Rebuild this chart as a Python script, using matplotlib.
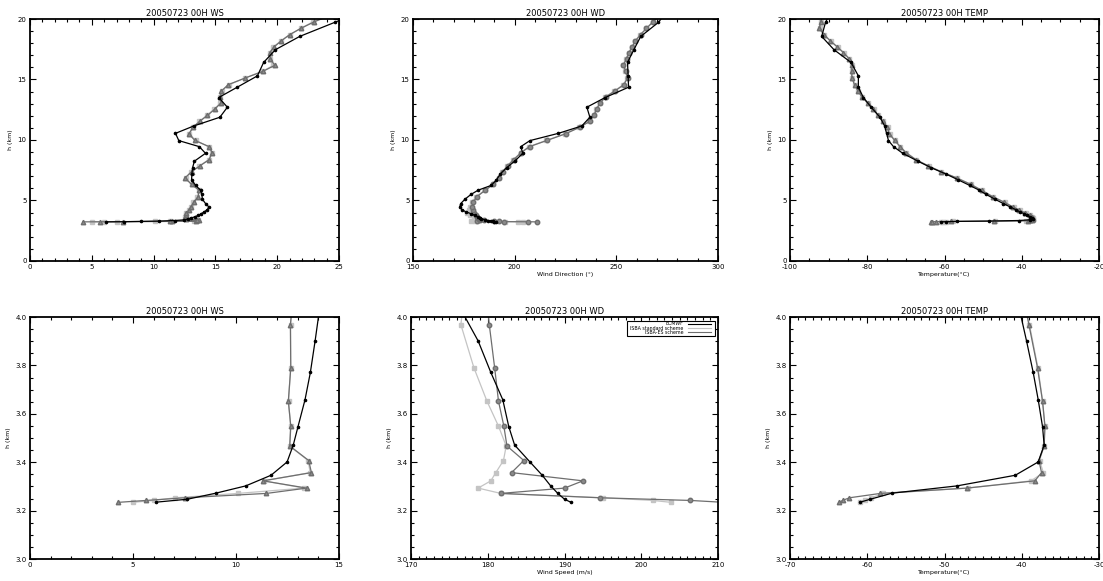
import numpy as np
import matplotlib
matplotlib.use("Agg")
import matplotlib.pyplot as plt
from matplotlib.ticker import MultipleLocator, FormatStrFormatter
from matplotlib.patches import Rectangle

plt.rcParams['font.family'] = 'DejaVu Sans'
plt.rcParams['axes.unicode_minus'] = False

# ECMWF profile (height in km)
h_ec = [3.235, 3.247, 3.272, 3.302, 3.346, 3.401, 3.471, 3.547, 3.658, 3.771, 3.901,
        4.06, 4.25, 4.47, 4.75, 5.1, 5.5, 5.85, 6.25, 6.7, 7.2, 7.7, 8.25, 8.9, 9.45,
        9.95, 10.55, 11.16, 11.88, 12.71, 13.51, 14.36, 15.30, 16.41, 17.46, 18.56,
        19.72, 20.9]
ws_ec = [6.14, 7.64, 9.02, 10.47, 11.70, 12.48, 12.78, 13.01, 13.35, 13.61, 13.84,
         14.1, 14.35, 14.47, 14.2, 13.95, 13.9, 13.8, 13.4, 13.07, 13.1, 13.15, 13.3,
         14.2, 13.7, 12.04, 11.77, 13.25, 15.36, 15.97, 15.27, 16.76, 18.4, 18.9,
         19.85, 21.82, 24.65, 27.5]
wd_ec = [190.8, 190.0, 189.1, 188.2, 187.1, 185.5, 183.5, 182.74, 181.96, 180.4, 178.75,
         176.0, 174.0, 173.0, 173.5, 175.5, 178.5, 182.0, 188.5, 191.0, 193.0, 196.0,
         200.0, 204.0, 203.0, 207.5, 221.5, 233.0, 237.0, 235.5, 244.5, 256.0, 255.8,
         255.5, 258.6, 262.0, 270.7, 276.0]
t_ec = [-60.9, -59.6, -56.8, -48.4, -40.84, -37.87, -37.1, -37.31, -37.87, -38.52, -39.38,
        -40.5, -41.6, -43.0, -44.8, -46.9, -49.2, -51.0, -53.5, -56.4, -59.7, -63.4,
        -66.9, -70.8, -73.2, -74.5, -75.0, -75.5, -76.7, -79.0, -81.0, -82.3, -82.3,
        -84.2, -88.6, -91.8, -90.8, -89.0]

# model levels (km), shared by both ISBA runs
h_m = [3.234, 3.242, 3.253, 3.271, 3.293, 3.323, 3.357, 3.407, 3.467, 3.549, 3.652,
       3.790, 3.968, 4.20, 4.45, 4.85, 5.31, 5.84, 6.33, 6.86, 7.38, 7.86, 8.37, 8.96,
       9.45, 9.97, 10.51, 11.06, 11.55, 12.03, 12.55, 13.06, 13.57, 14.05, 14.57, 15.13,
       15.68, 16.17, 16.72, 17.23, 17.70, 18.20, 18.70, 19.22, 19.77, 20.30]

# ISBA standard scheme
ws_std = [5.0, 6.0, 7.06, 10.09, 13.3, 11.35, 13.6, 13.5, 12.6, 12.65, 12.55, 12.65,
          12.65, 12.9, 13.0, 13.2, 13.55, 13.7, 13.1, 12.6, 13.05, 13.7, 14.45, 14.7,
          14.45, 13.4, 12.9, 13.2, 13.7, 14.3, 14.9, 15.4, 15.4, 15.5, 16.1, 17.4, 18.8,
          19.7, 19.4, 19.4, 19.7, 20.3, 21.0, 21.9, 22.9, 24.2]
wd_std = [203.9, 201.5, 195.0, 181.7, 178.75, 180.4, 181.05, 182.05, 182.4, 181.4, 179.9,
          178.2, 176.5, 177.3, 178.0, 179.2, 181.0, 185.2, 189.3, 192.3, 194.0, 196.3,
          199.3, 203.0, 207.0, 215.6, 224.6, 231.8, 236.7, 238.8, 240.1, 241.8, 244.6,
          249.0, 253.4, 255.3, 254.5, 253.2, 254.8, 256.1, 257.6, 259.2, 261.7, 264.6,
          267.9, 271.3]
t_std = [-61.0, -60.3, -59.5, -57.9, -47.0, -38.8, -37.2, -37.7, -37.1, -37.0, -37.3,
         -37.9, -39.0, -40.5, -42.1, -44.4, -47.4, -50.3, -53.1, -56.7, -60.8, -64.1,
         -67.3, -69.9, -71.4, -72.8, -74.2, -74.7, -75.9, -77.1, -78.3, -79.8, -81.3,
         -82.3, -83.2, -83.9, -83.9, -83.9, -84.6, -86.1, -87.7, -89.5, -91.1, -92.3,
         -92.0, -91.4]

# ISBA-ES scheme
ws_es = [4.27, 5.64, 7.53, 11.48, 13.43, 11.31, 13.66, 13.53, 12.61, 12.66, 12.54, 12.66,
         12.64, 12.9, 13.0, 13.25, 13.6, 13.69, 13.07, 12.53, 13.07, 13.74, 14.49, 14.74,
         14.49, 13.33, 12.85, 13.2, 13.74, 14.36, 14.95, 15.45, 15.4, 15.49, 16.03, 17.43,
         18.86, 19.8, 19.45, 19.4, 19.75, 20.34, 21.0, 21.9, 23.0, 24.3]
wd_es = [210.8, 206.4, 194.6, 181.7, 190.0, 192.4, 183.1, 184.7, 182.5, 182.1, 181.4,
         180.9, 180.2, 179.5, 179.1, 179.6, 181.4, 185.5, 189.5, 192.5, 194.2, 196.5,
         199.5, 203.2, 207.3, 216.0, 225.0, 232.1, 237.0, 239.0, 240.3, 242.0, 244.9,
         249.3, 253.7, 255.5, 254.7, 253.4, 255.0, 256.3, 257.8, 259.4, 261.9, 264.8,
         268.1, 271.5]
t_es = [-63.6, -63.2, -62.3, -58.3, -47.1, -38.3, -37.44, -37.78, -37.1, -37.0, -37.31,
        -37.96, -39.07, -40.6, -42.2, -44.5, -47.5, -50.4, -53.2, -56.8, -60.9, -64.2,
        -67.4, -70.0, -71.5, -72.9, -74.3, -74.8, -76.0, -77.2, -78.4, -79.9, -81.4,
        -82.4, -83.3, -84.0, -84.0, -84.0, -84.7, -86.2, -87.8, -89.6, -91.2, -92.4,
        -92.1, -91.5]

legend_labels = ["ECMWF", "ISBA standard scheme", "ISBA-ES scheme"]
c_ec, c_std, c_es = "black", "#c4c4c4", "#6e6e6e"

series = {
    "WS": (ws_ec, ws_std, ws_es, "^"),
    "WD": (wd_ec, wd_std, wd_es, "o"),
    "TEMP": (t_ec, t_std, t_es, "^"),
}

W, H = 1103.0, 581.0
fig = plt.figure(figsize=(11.03, 5.81), dpi=100)


def add_box(left, top, right, bottom):
    return fig.add_axes([left / W, 1 - bottom / H, (right - left) / W, (bottom - top) / H])


# (pixel box, variable, xlim, x major, x minor, ylim, y major, y minor, y fmt, xlabel)
panels = [
    ((30, 19, 339, 261), "WS", (0, 25), 5, 1, (0, 20), 5, 1, "%d", ""),
    ((413, 19, 718, 261), "WD", (150, 300), 50, 10, (0, 20), 5, 1, "%d", "Wind Direction (°)"),
    ((790, 19, 1099, 261), "TEMP", (-100, -20), 20, 5, (0, 20), 5, 1, "%d", "Temperature(°C)"),
    ((30, 317, 339, 559), "WS", (0, 15), 5, 1, (3, 4), 0.2, 0.05, "%.1f", ""),
    ((411, 317, 718, 559), "WD", (170, 210), 10, 1, (3, 4), 0.2, 0.05, "%.1f", "Wind Speed (m/s)"),
    ((790, 317, 1099, 559), "TEMP", (-70, -30), 10, 1, (3, 4), 0.2, 0.05, "%.1f", "Temperature(°C)"),
]

axes = []
for box, var, xlim, xmaj, xmin, ylim, ymaj, ymin, yfmt, xlabel in panels:
    ax = add_box(*box)
    v_ec, v_std, v_es, mk = series[var]
    ax.plot(v_std, h_m, color=c_std, lw=0.9, marker="s", ms=2.8, mec=c_std, mfc=c_std)
    ax.plot(v_es, h_m, color=c_es, lw=0.9, marker=mk, ms=3.2, mec=c_es, mfc="#8a8a8a")
    ax.plot(v_ec, h_ec, color=c_ec, lw=0.9, marker="o", ms=1.6, mec=c_ec, mfc=c_ec)
    ax.set_xlim(*xlim)
    ax.set_ylim(*ylim)
    ax.xaxis.set_major_locator(MultipleLocator(xmaj))
    ax.xaxis.set_minor_locator(MultipleLocator(xmin))
    ax.yaxis.set_major_locator(MultipleLocator(ymaj))
    ax.yaxis.set_minor_locator(MultipleLocator(ymin))
    ax.xaxis.set_major_formatter(FormatStrFormatter("%d"))
    ax.yaxis.set_major_formatter(FormatStrFormatter(yfmt))
    ax.tick_params(which="both", direction="in", top=True, right=True,
                   labelsize=5, pad=2.5, width=0.8, colors="black")
    ax.tick_params(which="major", length=4.5)
    ax.tick_params(which="minor", length=2.2)
    for sp in ax.spines.values():
        sp.set_linewidth(1.3)
    ax.set_title("20050723 00H " + var, fontsize=6, pad=2)
    ax.set_ylabel("h (km)", fontsize=4.5, labelpad=3)
    if xlabel:
        ax.set_xlabel(xlabel, fontsize=4.5, labelpad=1)
    axes.append(ax)

# legend box in the lower middle panel
lax = axes[4]
lax.add_patch(Rectangle((0.703, 0.921), 0.287, 0.062, transform=lax.transAxes,
                        facecolor="white", edgecolor="black", lw=0.8, zorder=5))
for i, (lab, col) in enumerate(zip(legend_labels, [c_ec, c_std, c_es])):
    y = 0.973 - i * 0.0185
    lax.text(0.888, y, lab, transform=lax.transAxes, fontsize=3.4, ha="right",
             va="center", zorder=6)
    lax.plot([0.902, 0.978], [y, y], transform=lax.transAxes, color=col, lw=0.8,
             zorder=6)

fig.savefig("out.png", dpi=100)
